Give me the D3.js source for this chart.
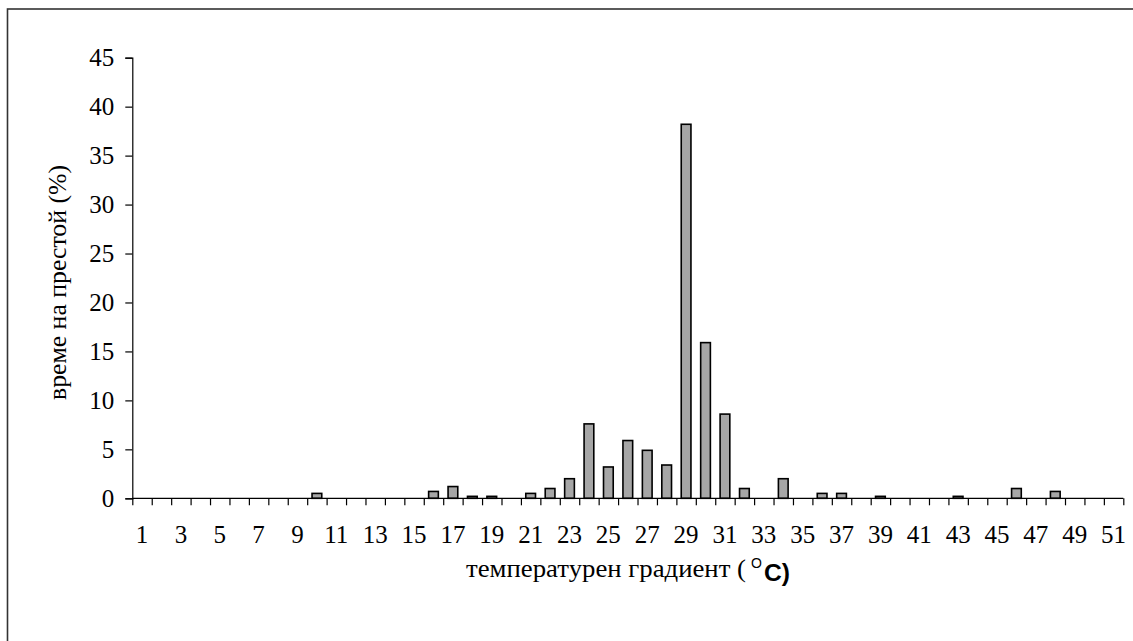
<!DOCTYPE html>
<html lang="bg">
<head>
    <meta charset="UTF-8">
    <title>температурен градиент</title>
    <script src="https://d3js.org/d3.v7.min.js"></script>
    <style>
        body { margin: 0; background: #fff; }
    </style>
</head>
<body>
<div id="figure" style="width:1133px;height:641px"></div>
<script>
    // categories 1..51 (°C), value = time share in %
    let categories = d3.range(1, 52);
    let values = [
        0, 0, 0, 0, 0, 0, 0, 0, 0, 0.5,      // 1-10
        0, 0, 0, 0, 0, 0.7, 1.2, 0.2, 0.2, 0, // 11-20
        0.5, 1.0, 2.0, 7.6, 3.2, 5.9, 4.9, 3.4, 38.2, 15.9, // 21-30
        8.6, 1.0, 0, 2.0, 0, 0.5, 0.5, 0, 0.2, 0, // 31-40
        0, 0, 0.2, 0, 0, 1.0, 0, 0.7, 0, 0, 0   // 41-51
    ];
    let yTicks = [0, 5, 10, 15, 20, 25, 30, 35, 40, 45];
    let xLabels = categories.filter(d => d % 2 === 1);
    let yTitle = "време на престой (%)";
    let xTitle = "температурен градиент (";

    let w = 1133, h = 641;
    let plotLeft = 132.3, plotRight = 1123.3, plotTop = 57.7, plotBottom = 498.3;
    let serif = "Liberation Serif, DejaVu Serif, serif";
    let sans = "Liberation Sans, Arial, sans-serif";

    let svg = d3.select("#figure").append("svg")
        .attr("width", w)
        .attr("height", h);

    // outer frame (runs off the right and bottom edge)
    svg.append("rect")
        .attr("x", 7.5).attr("y", 9)
        .attr("width", 1200).attr("height", 700)
        .attr("fill", "none")
        .attr("stroke", "#333")
        .attr("stroke-width", 1.6);

    let xScale = d3.scaleBand()
        .domain(categories)
        .range([plotLeft, plotRight])
        .paddingInner(0.5)
        .paddingOuter(0.25);
    let xEdge = d3.scaleLinear()
        .domain([0, categories.length])
        .range([plotLeft, plotRight]);
    let yScale = d3.scaleLinear()
        .domain([0, 45])
        .range([plotBottom, plotTop]);

    // bars
    svg.append("g").selectAll("rect")
        .data(categories.map((c, i) => ({c: c, v: values[i]})).filter(d => d.v > 0))
        .join("rect")
        .attr("x", d => xScale(d.c))
        .attr("y", d => yScale(d.v))
        .attr("width", xScale.bandwidth())
        .attr("height", d => yScale(0) - yScale(d.v))
        .attr("fill", "#a6a6a6")
        .attr("stroke", "#000")
        .attr("stroke-width", 1.6);

    // y axis
    let yAxis = svg.append("g")
        .attr("transform", `translate(${plotLeft},0)`)
        .attr("font-family", serif)
        .call(d3.axisLeft(yScale).tickValues(yTicks).tickSize(7).tickPadding(11));
    yAxis.attr("font-family", serif).attr("font-size", 25);
    yAxis.select(".domain").attr("stroke", "#000").attr("stroke-width", 1.2);
    yAxis.selectAll("line").attr("stroke", "#000").attr("stroke-width", 1.2);
    yAxis.selectAll("text").attr("fill", "#000");

    // x axis: tick marks at category edges
    let xTickAxis = svg.append("g")
        .attr("transform", `translate(0,${plotBottom})`)
        .call(d3.axisBottom(xEdge).tickValues(d3.range(0, categories.length + 1))
            .tickSize(7).tickFormat(""));
    xTickAxis.select(".domain").attr("stroke", "#000").attr("stroke-width", 1.2)
        .attr("d", `M${plotLeft},0H${plotRight}`);
    xTickAxis.selectAll("line").attr("stroke", "#000").attr("stroke-width", 1.2);

    // x labels every other category
    let xLabelAxis = svg.append("g")
        .attr("transform", `translate(0,${plotBottom})`)
        .call(d3.axisBottom(xScale).tickValues(xLabels).tickSize(0).tickPadding(27));
    xLabelAxis.attr("font-family", serif).attr("font-size", 25);
    xLabelAxis.select(".domain").remove();
    xLabelAxis.selectAll("text").attr("fill", "#000");

    // y title
    svg.append("text")
        .attr("transform", "translate(66,282.5) rotate(-90)")
        .attr("text-anchor", "middle")
        .attr("textLength", 235)
        .attr("lengthAdjust", "spacingAndGlyphs")
        .attr("font-family", serif)
        .attr("font-size", 25)
        .text(yTitle);

    // x title
    svg.append("text")
        .attr("x", 466).attr("y", 577)
        .attr("textLength", 280)
        .attr("lengthAdjust", "spacingAndGlyphs")
        .attr("font-family", serif)
        .attr("font-size", 25)
        .text(xTitle);
    svg.append("text")
        .attr("x", 751).attr("y", 568)
        .attr("font-family", sans)
        .attr("font-size", 14)
        .text("O");
    svg.append("text")
        .attr("x", 764).attr("y", 580.5)
        .attr("textLength", 26)
        .attr("lengthAdjust", "spacingAndGlyphs")
        .attr("font-family", sans)
        .attr("font-weight", "bold")
        .attr("font-size", 23)
        .text("C)");
</script>
</body>
</html>
